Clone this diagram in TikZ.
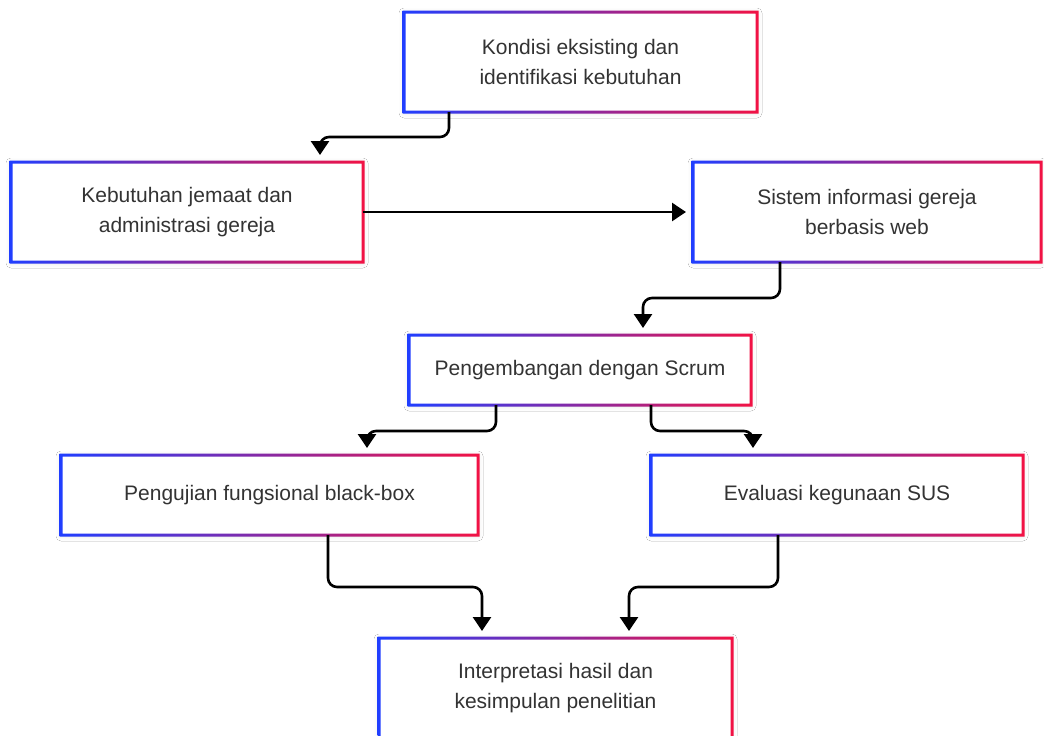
\documentclass[tikz,border=0pt]{standalone}
\usepackage{fontspec}
\setmainfont{Liberation Sans}
\usetikzlibrary{arrows.meta,shadows.blur}

\definecolor{cblue}{RGB}{32,62,255}
\definecolor{cred}{RGB}{242,18,68}
\definecolor{txt}{RGB}{51,51,51}

% gradient frame (blue to red) around a named box
\newcommand{\gborder}[1]{%
  \shade[left color=cblue,right color=cred,even odd rule]
    ([shift={(-1.5pt,1.5pt)}]#1.north west) rectangle ([shift={(1.5pt,-1.5pt)}]#1.south east)
    ([shift={(1.5pt,-1.5pt)}]#1.north west) rectangle ([shift={(-1.5pt,1.5pt)}]#1.south east);}

\tikzset{
  box/.style={rectangle, fill=white, inner sep=0pt, outer sep=0pt, align=center,
    text=txt, font=\fontsize{21}{30.5}\selectfont,
    blur shadow={shadow xshift=0pt, shadow yshift=-1pt, shadow blur radius=5pt, shadow opacity=12}},
  flow/.style={draw=black, line width=2.6pt, rounded corners=9pt, shorten >=7pt,
    -{Triangle[width=18pt,length=14pt]}}
}

\begin{document}
\begin{tikzpicture}[x=1pt,y=-1pt]
\useasboundingbox (0,0) rectangle (1044,736);
\clip (0,0) rectangle (1044,736);
\fill[white] (0,0) rectangle (1044,736);

% process boxes
\node[box, minimum width=353pt, minimum height=100pt] (b1) at (580.5,62)
  {Kondisi eksisting dan\\identifikasi kebutuhan};
\node[box, minimum width=352pt, minimum height=100pt] (b2) at (187,212)
  {Kebutuhan jemaat dan\\administrasi gereja};
\node[box, minimum width=348pt, minimum height=100pt] (b3) at (867,212)
  {Sistem informasi gereja\\berbasis web};
\node[box, minimum width=342pt, minimum height=70pt] (b4) at (580,370)
  {Pengembangan dengan Scrum};
\node[box, minimum width=417pt, minimum height=80pt] (b5) at (269.5,495)
  {Pengujian fungsional black-box};
\node[box, minimum width=372pt, minimum height=80pt] (b6) at (837,495)
  {Evaluasi kegunaan SUS};
\node[box, minimum width=353pt, minimum height=100pt] (b7) at (555.5,688)
  {Interpretasi hasil dan\\kesimpulan penelitian};

\foreach \n in {b1,b2,b3,b4,b5,b6,b7} {\gborder{\n}}

% connectors
\draw[flow] (b1.south -| 449,0) -- (449,137) -- (320,137) -- (b2.north -| 320,0);
\draw[flow] (b2.east) -- (b3.west);
\draw[flow] (b3.south -| 780,0) -- (780,298) -- (643,298) -- (b4.north -| 643,0);
\draw[flow] (b4.south -| 496,0) -- (496,431) -- (367,431) -- (b5.north -| 367,0);
\draw[flow] (b4.south -| 651,0) -- (651,431) -- (753,431) -- (b6.north -| 753,0);
\draw[flow] (b5.south -| 328,0) -- (328,587) -- (482,587) -- (b7.north -| 482,0);
\draw[flow] (b6.south -| 778,0) -- (778,587) -- (629,587) -- (b7.north -| 629,0);
\end{tikzpicture}
\end{document}
